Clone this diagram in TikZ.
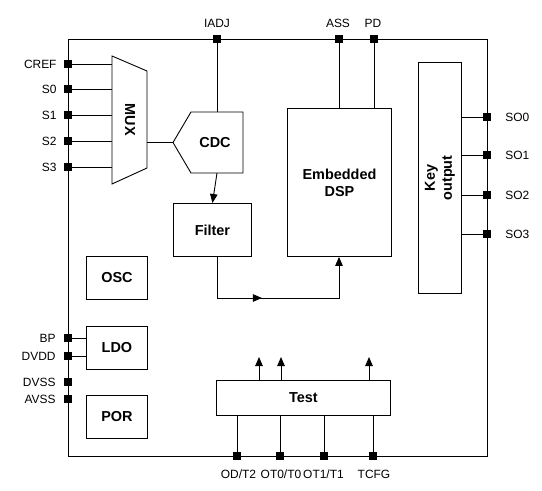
\documentclass[tikz,border=0pt]{standalone}
\usepackage{fontspec}
\setmainfont{Liberation Sans}
\usetikzlibrary{arrows.meta,decorations.markings}
\begin{document}
\begin{tikzpicture}[x=1bp,y=-1bp,line width=0.9bp,
  pinsq/.style={fill=black,draw=none,rectangle,minimum size=8bp,inner sep=0pt},
  lbl/.style={font=\fontsize{12}{14}\selectfont,inner sep=0pt},
  blk/.style={draw,rectangle,anchor=north west,font=\bfseries\fontsize{14.5}{17}\selectfont,inner sep=0pt,align=center},
  bold/.style={font=\bfseries\fontsize{14.5}{17}\selectfont,inner sep=0pt,align=center},
  arr/.style={-{Triangle[length=9bp,width=7.5bp]}},
  midarr/.style={postaction={decorate},decoration={markings,mark=at position #1 with {\arrow{Triangle[length=9bp,width=7.5bp]}}}}]
\useasboundingbox (0,0) rectangle (542,491);
% chip outline
\node[draw,rectangle,anchor=north west,minimum width=419bp,minimum height=417bp,inner sep=0pt] (chip) at (68,39) {};
% blocks
\node[blk,minimum width=61bp,minimum height=43bp] (osc) at (86,256) {OSC};
\node[blk,minimum width=61bp,minimum height=43bp] (ldo) at (86,326) {LDO};
\node[blk,minimum width=61bp,minimum height=43bp] (por) at (86,395) {POR};
\node[blk,minimum width=78bp,minimum height=53bp] (filter) at (173,203) {Filter};
\node[blk,minimum width=104bp,minimum height=148bp] (dsp) at (287,108) {Embedded\\DSP};
\node[blk,minimum width=43bp,minimum height=231bp] (key) at (418,62) {};
\node[bold,rotate=90] at (key.center) {Key\\output};
\node[blk,minimum width=174bp,minimum height=35bp] (test) at (216,380) {Test};
% MUX
\draw (112,56) -- (147,71) -- (147,168) -- (112,184) -- cycle;
\node[bold,rotate=-90] (mux) at (130,120) {MUX};
\coordinate (muxout) at (147,142.5);
% CDC
\draw (173,142.5) -- (191,112) -- (243,112) -- (243,173) -- (191,173) -- cycle;
\node[bold] (cdc) at (215,143) {CDC};
\coordinate (cdcin) at (173,142.5);
\coordinate (cdctop) at (217,112);
\coordinate (cdcbot) at (217,173);
% left pins
\foreach \n/\t/\y in {cref/CREF/64,s0/S0/89,s1/S1/115,s2/S2/141,s3/S3/167}{
  \coordinate (m\n) at (112,\y);
  \node[pinsq] (\n) at (68,\y) {};
  \draw (\n.center) -- (m\n);
  \node[pinsq] at (68,\y) {};
  \node[lbl,anchor=east] at (57,\y) {\t};
}
\foreach \n/\t/\y in {bp/BP/338,dvdd/DVDD/356}{
  \coordinate (l\n) at (86,\y);
  \node[pinsq] (\n) at (68,\y) {};
  \draw (\n.center) -- (l\n);
  \node[pinsq] at (68,\y) {};
  \node[lbl,anchor=east] at (56,\y) {\t};
}
\foreach \n/\t/\y in {dvss/DVSS/382,avss/AVSS/399}{
  \node[pinsq] (\n) at (68,\y) {};
  \node[lbl,anchor=east] at (56,\y) {\t};
}
% top pins
\node[pinsq] (iadj) at (217,39) {};
\node[pinsq] (ass) at (339,39) {};
\node[pinsq] (pd) at (374,39) {};
\node[lbl] at (217,23) {IADJ};
\node[lbl] at (338,23) {ASS};
\node[lbl] at (373,23) {PD};
\draw (iadj.center) -- (cdctop);
\draw (ass.center) -- (ass.center |- dsp.north);
\draw (pd.center) -- (pd.center |- dsp.north);
\node[pinsq] at (217,39) {};
\node[pinsq] at (339,39) {};
\node[pinsq] at (374,39) {};
% right pins
\foreach \n/\t/\y in {so0/SO0/117,so1/SO1/155,so2/SO2/195,so3/SO3/234}{
  \node[pinsq] (\n) at (487,\y) {};
  \draw (key.east |- \n) -- (\n.center);
  \node[pinsq] at (487,\y) {};
  \node[lbl,anchor=west] at (505,\y) {\t};
}
% bottom pins
\foreach \n/\t/\x in {od/OD\slash T2/237,ot0/OT0\slash T0/280,ot1/OT1\slash T1/324,tcfg/TCFG/373}{
  \node[pinsq] (\n) at (\x,456) {};
  \draw (\n.center |- test.south) -- (\n.center);
  \node[pinsq] at (\x,456) {};
}
\node[lbl] at (238.5,474) {OD/T2};
\node[lbl] at (281,474) {OT0/T0};
\node[lbl] at (323.5,474) {OT1/T1};
\node[lbl] at (374,474) {TCFG};
% signal flow
\draw (muxout) -- (cdcin);
\draw[arr] (cdcbot) -- (filter.north);
\coordinate (c1) at (217,298);
\coordinate (c2) at (339,298);
\draw[arr,midarr=86bp] (filter.south -| c1) -- (c1) -- (c2) -- (c2 |- dsp.south);
% test outputs
\foreach \x in {259,281,369}{
  \coordinate (t\x) at (\x,357);
  \draw[arr] (\x,380) -- (t\x);
}
\end{tikzpicture}
\end{document}
